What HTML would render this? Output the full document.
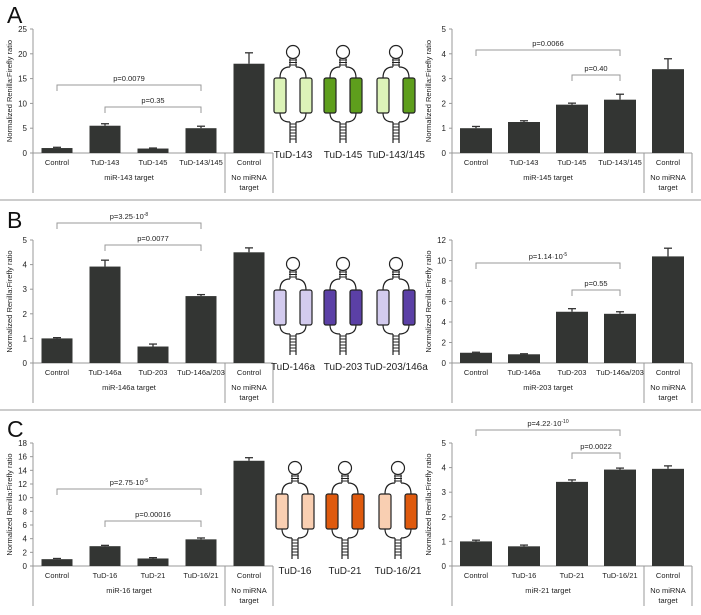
<!DOCTYPE html>
<html><head><meta charset="utf-8"><style>
body{margin:0;background:#fff}
svg{display:block;font-family:"Liberation Sans",sans-serif}
</style></head><body>
<svg id="fig" width="701" height="615" viewBox="0 0 701 615"></svg>
<script>
const catsA1=["Control","TuD-143","TuD-145","TuD-143/145","Control"];
const valsA1=[1.0,5.5,0.9,5.0,18.0];
const errA1=[0.15,0.4,0.1,0.4,2.2];
const ticksA1=[0,5,10,15,20,25];
const catsA2=["Control","TuD-143","TuD-145","TuD-143/145","Control"];
const valsA2=[1.0,1.25,1.95,2.15,3.38];
const errA2=[0.07,0.05,0.06,0.22,0.42];
const ticksA2=[0,1,2,3,4,5];
const catsB1=["Control","TuD-146a","TuD-203","TuD-146a/203","Control"];
const valsB1=[1.0,3.92,0.67,2.72,4.5];
const errB1=[0.03,0.26,0.1,0.06,0.18];
const ticksB1=[0,1,2,3,4,5];
const catsB2=["Control","TuD-146a","TuD-203","TuD-146a/203","Control"];
const valsB2=[1.0,0.85,5.0,4.8,10.4];
const errB2=[0.05,0.05,0.3,0.2,0.8];
const ticksB2=[0,2,4,6,8,10,12];
const catsC1=["Control","TuD-16","TuD-21","TuD-16/21","Control"];
const valsC1=[1.0,2.9,1.1,3.9,15.4];
const errC1=[0.1,0.12,0.12,0.2,0.45];
const ticksC1=[0,2,4,6,8,10,12,14,16,18];
const catsC2=["Control","TuD-16","TuD-21","TuD-16/21","Control"];
const valsC2=[1.0,0.8,3.42,3.92,3.95];
const errC2=[0.05,0.05,0.08,0.06,0.12];
const ticksC2=[0,1,2,3,4,5];

const NS="http://www.w3.org/2000/svg";
const svg=document.getElementById('fig');
function mk(tag,attrs,parent,text){const e=document.createElementNS(NS,tag);for(const k in attrs)e.setAttribute(k,attrs[k]);if(text!==undefined)e.textContent=text;(parent||svg).appendChild(e);return e;}

function chart(name,ax,y0,yTop,cats,vals,errs,ticks,group,brackets,bw){
  const g=mk('g',{},svg);
  
  
  const max=ticks[ticks.length-1];
  const ys=v=>y0-(v/max)*(y0-yTop);
  const cw=48;
  const xs=i=>ax+cw*i+cw/2;
  const sep=ax+cw*4, end=ax+cw*5;
  // axis
  mk('line',{x1:ax,y1:yTop,x2:ax,y2:y0+40,stroke:'#999','stroke-width':1},g);
  mk('line',{x1:ax,y1:y0,x2:end,y2:y0,stroke:'#999','stroke-width':1},g);
  mk('line',{x1:sep,y1:y0,x2:sep,y2:y0+40,stroke:'#999','stroke-width':1},g);
  mk('line',{x1:end,y1:y0,x2:end,y2:y0+40,stroke:'#999','stroke-width':1},g);
  ticks.forEach(t=>{
    mk('line',{x1:ax-3,y1:ys(t),x2:ax,y2:ys(t),stroke:'#999'},g);
    const tl=mk('text',{x:ax-6,y:ys(t)+3,'font-size':8,'text-anchor':'end',fill:'#222'},g,String(t));
    
    
  });
  const yt=mk('text',{transform:`translate(${ax-21},${(y0+yTop)/2}) rotate(-90)`,'font-size':7.5,'text-anchor':'middle',fill:'#222'},g,'Normalized Renilla:Firefly ratio');
  
  
  vals.forEach((v,i)=>{
    const x=xs(i);
    const b=mk('rect',{x:x-bw/2,y:ys(v),width:bw,height:y0-ys(v),fill:'#333533'},g);
    
    
    const et=ys(v+errs[i]);
    mk('line',{x1:x,y1:ys(v),x2:x,y2:et,stroke:'#333',"stroke-width":1.3},g);
    mk('line',{x1:x-4,y1:et,x2:x+4,y2:et,stroke:'#333',"stroke-width":1.3},g);
    const cl=mk('text',{x:x,y:y0+12,'font-size':7.5,'text-anchor':'middle',fill:'#222'},g,cats[i]);
    
    
  });
  const gl=mk('text',{x:(ax+sep)/2,y:y0+27,'font-size':7.5,'text-anchor':'middle',fill:'#222'},g,group);
  
  
  const n1=mk('text',{x:(sep+end)/2,y:y0+27,'font-size':7.5,'text-anchor':'middle',fill:'#222'},g,'No miRNA');
  
  
  mk('text',{x:(sep+end)/2,y:y0+37,'font-size':7.5,'text-anchor':'middle',fill:'#222'},g,'target');
  brackets.forEach(br=>{
    const xa=xs(br[0]),xb=xs(br[1]),y=br[2];
    const p=mk('path',{d:`M${xa},${y+6}V${y}H${xb}V${y+6}`,fill:'none',stroke:'#999'},g);
    
    
    const t=mk('text',{x:(xa+xb)/2,y:y-4,'font-size':7.5,'text-anchor':'middle',fill:'#222'},g);
    
    
    t.textContent=br[3];
    if(br[4]){const s=mk('tspan',{dy:-3,'font-size':5},t,br[4]);}
  });
}

function hairpin(cx,ly,c1,c2,label){
  const g=mk('g',{},svg);
  
  
  const t=ly-158;
  mk('circle',{cx:cx,cy:t+52,r:6.5,fill:'#fff',stroke:'#222','stroke-width':1.2},g);
  for(let k=0;k<3;k++)mk('line',{x1:cx-4,y1:t+60+k*2.5,x2:cx+4,y2:t+60+k*2.5,stroke:'#222'},g);
  mk('line',{x1:cx-3,y1:t+58,x2:cx-3,y2:t+67,stroke:'#222'},g);
  mk('line',{x1:cx+3,y1:t+58,x2:cx+3,y2:t+67,stroke:'#222'},g);
  mk('path',{d:`M${cx-3},${t+67} Q${cx-13},${t+67} ${cx-13},${t+78} M${cx+3},${t+67} Q${cx+13},${t+67} ${cx+13},${t+78} M${cx-13},${t+113} Q${cx-13},${t+122} ${cx-3},${t+122} M${cx+13},${t+113} Q${cx+13},${t+122} ${cx+3},${t+122}`,fill:'none',stroke:'#222','stroke-width':1.2},g);
  mk('rect',{x:cx-19,y:t+78,width:12,height:35,rx:2,fill:c1,stroke:'#222','stroke-width':1.2},g);
  mk('rect',{x:cx+7,y:t+78,width:12,height:35,rx:2,fill:c2,stroke:'#222','stroke-width':1.2},g);
  mk('line',{x1:cx-3,y1:t+122,x2:cx-3,y2:t+143,stroke:'#222','stroke-width':1.2},g);
  mk('line',{x1:cx+3,y1:t+122,x2:cx+3,y2:t+143,stroke:'#222','stroke-width':1.2},g);
  for(let k=0;k<6;k++)mk('line',{x1:cx-3,y1:t+124+k*3,x2:cx+3,y2:t+124+k*3,stroke:'#222'},g);
  const l=mk('text',{x:cx,y:ly,'font-size':10,'text-anchor':'middle',fill:'#222'},g,label);
  
  
}

// panel separators
[200,410].forEach(y=>{const l=mk('line',{x1:0,y1:y,x2:701,y2:y,stroke:'#999','stroke-width':1});

});
[['A',23],['B',228],['C',437]].forEach(a=>{const t=mk('text',{x:7,y:a[1],'font-size':23,fill:'#111'},svg,a[0]);

});

chart('chart-a-mir143',33,153,29,catsA1,valsA1,errA1,ticksA1,'miR-143 target',[[0,3,85,'p=0.0079'],[1,3,107,'p=0.35']],31);
chart('chart-a-mir145',452,153,29,catsA2,valsA2,errA2,ticksA2,'miR-145 target',[[0,3,50,'p=0.0066'],[2,3,75,'p=0.40']],32);
chart('chart-b-mir146a',33,363,240,catsB1,valsB1,errB1,ticksB1,'miR-146a target',[[0,3,223,'p=3.25·10','-8'],[1,3,245,'p=0.0077']],31);
chart('chart-b-mir203',452,363,240,catsB2,valsB2,errB2,ticksB2,'miR-203 target',[[0,3,263,'p=1.14·10','-5'],[2,3,290,'p=0.55']],32);
chart('chart-c-mir16',33,566,443,catsC1,valsC1,errC1,ticksC1,'miR-16 target',[[0,3,489,'p=2.75·10','-5'],[1,3,521,'p=0.00016']],31);
chart('chart-c-mir21',452,566,443,catsC2,valsC2,errC2,ticksC2,'miR-21 target',[[0,3,430,'p=4.22·10','-10'],[2,3,453,'p=0.0022']],32);

const gL='#dcf3b8',gD='#5e9e1c',pL='#d3cbee',pD='#5b40a6',oL='#f9cfb2',oD='#df5a0e';
hairpin(293,158,gL,gL,'TuD-143');hairpin(343,158,gD,gD,'TuD-145');hairpin(396,158,gL,gD,'TuD-143/145');
hairpin(293,370,pL,pL,'TuD-146a');hairpin(343,370,pD,pD,'TuD-203');hairpin(396,370,pL,pD,'TuD-203/146a');
hairpin(295,574,oL,oL,'TuD-16');hairpin(345,574,oD,oD,'TuD-21');hairpin(398,574,oL,oD,'TuD-16/21');
</script>
</body></html>
